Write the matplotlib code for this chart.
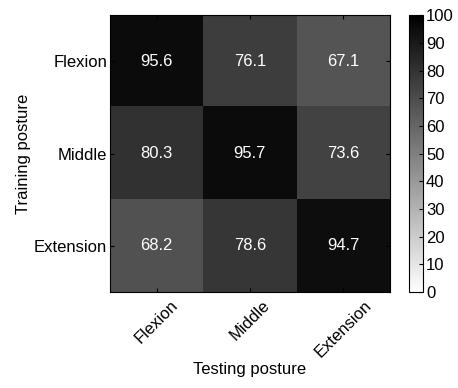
import matplotlib
matplotlib.use("Agg")
import matplotlib.pyplot as plt
import numpy as np

plt.rcParams['font.family'] = ['Liberation Sans', 'DejaVu Sans']

train_labels = ["Flexion", "Middle", "Extension"]
test_labels = ["Flexion", "Middle", "Extension"]
values = np.array([
    [95.6, 76.1, 67.1],
    [80.3, 95.7, 73.6],
    [68.2, 78.6, 94.7],
])
cbar_ticks = [0, 10, 20, 30, 40, 50, 60, 70, 80, 90, 100]

FS = 12
fig = plt.figure(figsize=(4.58, 3.88), dpi=100)
ax = fig.add_axes([0.240, 0.247, 0.611, 0.714])
im = ax.imshow(values, cmap='gray_r', vmin=0, vmax=100, aspect='auto')
for i in range(values.shape[0]):
    for j in range(values.shape[1]):
        ax.text(j, i, f"{values[i, j]:.1f}", ha='center', va='center', color='white', fontsize=FS)

ax.set_xticks(range(len(test_labels)))
ax.set_xticklabels(test_labels, rotation=45, ha='center', fontsize=FS)
ax.set_yticks(range(len(train_labels)))
ax.set_yticklabels(train_labels, fontsize=FS)
ax.tick_params(direction='in', top=True, right=True, length=3, pad=2)
ax.tick_params(axis='x', pad=4)
ax.set_xlabel("Testing posture", fontsize=FS, labelpad=1)
ax.set_ylabel("Training posture", fontsize=FS, labelpad=2)

cax = fig.add_axes([0.893, 0.247, 0.031, 0.714])
cb = fig.colorbar(im, cax=cax, ticks=cbar_ticks)
cb.ax.tick_params(direction='in', length=3, labelsize=FS, pad=2)
cb.outline.set_linewidth(0.8)

fig.savefig("out.png", dpi=100)
